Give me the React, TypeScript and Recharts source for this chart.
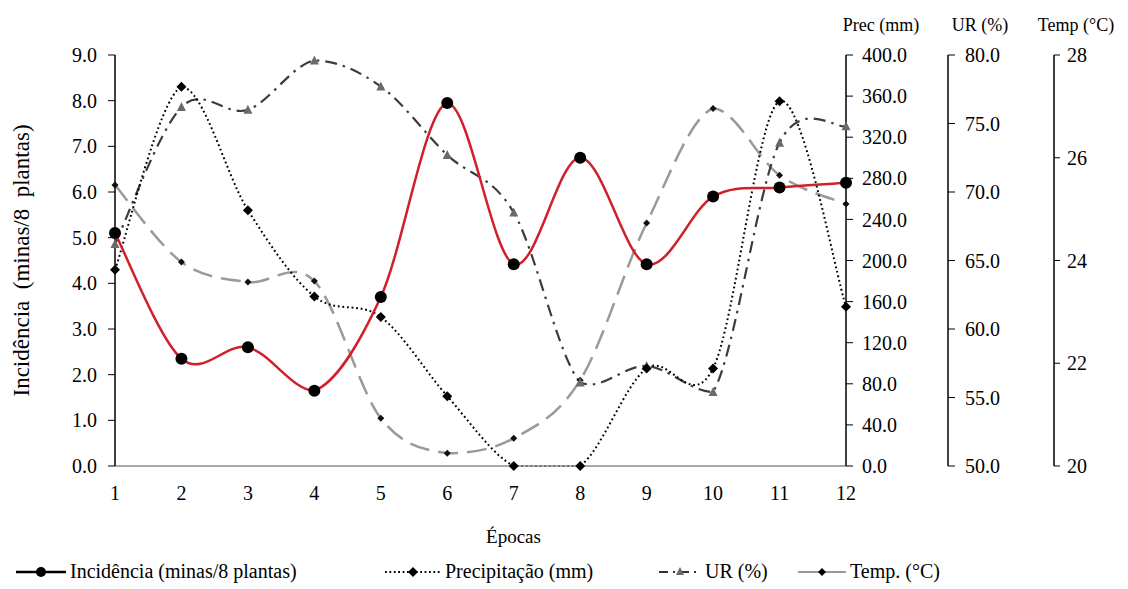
import React from 'react';
import { LineChart, Line, XAxis, YAxis } from 'recharts';

// valores
const epocas = ['1', '2', '3', '4', '5', '6', '7', '8', '9', '10', '11', '12'];
const incidencia = [5.1, 2.35, 2.6, 1.65, 3.7, 7.95, 4.42, 6.75, 4.42, 5.9, 6.1, 6.2];
const precipitacao = [191, 369, 249, 165, 145, 68, 0, 0, 95, 95, 355, 155];
const umidade = [66.2, 76.2, 76.0, 79.6, 77.7, 72.7, 68.5, 56.1, 57.3, 55.4, 73.6, 74.8];
const temperatura = [25.47, 23.97, 23.58, 23.6, 20.93, 20.25, 20.54, 21.67, 24.73, 26.96, 25.66, 25.1];

const incTicks = [0, 1, 2, 3, 4, 5, 6, 7, 8, 9];
const precTicks = [0, 40, 80, 120, 160, 200, 240, 280, 320, 360, 400];
const urTicks = [50, 55, 60, 65, 70, 75, 80];
const tempTicks = [20, 22, 24, 26, 28];

const data = epocas.map((e, i) => ({
  epoca: e,
  inc: incidencia[i],
  prec: precipitacao[i],
  ur: umidade[i],
  temp: temperatura[i],
}));

const FONT = 'Liberation Serif, Tinos, Times New Roman, Times, serif';
const RED = '#d0202a';

// smoothing parecido com o do Excel (Catmull-Rom em bezier), sem passar do min/max da serie
const excelCurve = (context: any) => {
  let pts: number[][] = [];
  return {
    areaStart() {},
    areaEnd() {},
    lineStart() {
      pts = [];
    },
    point(x: number, y: number) {
      pts.push([+x, +y]);
    },
    lineEnd() {
      if (!pts.length) return;
      const ys = pts.map((p) => p[1]);
      const lo = Math.min(...ys);
      const hi = Math.max(...ys);
      const cl = (v: number) => Math.max(lo, Math.min(hi, v));
      context.moveTo(pts[0][0], pts[0][1]);
      for (let i = 0; i < pts.length - 1; i++) {
        const p0 = pts[i - 1] || pts[i];
        const p1 = pts[i];
        const p2 = pts[i + 1];
        const p3 = pts[i + 2] || p2;
        context.bezierCurveTo(
          p1[0] + (p2[0] - p0[0]) / 6,
          cl(p1[1] + (p2[1] - p0[1]) / 6),
          p2[0] - (p3[0] - p1[0]) / 6,
          cl(p2[1] - (p3[1] - p1[1]) / 6),
          p2[0],
          p2[1]
        );
      }
    },
  };
};

const Diamond = (size: number, color: string) => (props: any) => {
  const { cx, cy, index } = props;
  if (cx == null || cy == null) return <g key={index} />;
  return (
    <path
      key={index}
      d={`M${cx},${cy - size}L${cx + size},${cy}L${cx},${cy + size}L${cx - size},${cy}Z`}
      fill={color}
    />
  );
};

const Triangle = (props: any) => {
  const { cx, cy, index } = props;
  if (cx == null || cy == null) return <g key={index} />;
  return <path key={index} d={`M${cx},${cy - 5}L${cx + 4.5},${cy + 4}L${cx - 4.5},${cy + 4}Z`} fill="#6a6a6a" />;
};

const rightTitle = (text: string, shift: number) => (props: any) => {
  const vb = props.viewBox || {};
  return (
    <text x={vb.x + shift} y={vb.y - 24} textAnchor="middle" fontFamily={FONT} fontSize={18} fill="#000">
      {text}
    </text>
  );
};

const leftTitle = (props: any) => {
  const vb = props.viewBox || {};
  const x = vb.x + 16;
  const y = vb.y + vb.height / 2;
  return (
    <text
      x={x}
      y={y}
      transform={`rotate(-90 ${x} ${y})`}
      textAnchor="middle"
      dominantBaseline="central"
      fontFamily={FONT}
      fontSize={23}
      fill="#000"
      style={{ whiteSpace: 'pre' }}
    >
      {'Incidência  (minas/8  plantas)'}
    </text>
  );
};

const xTitle = (props: any) => {
  const vb = props.viewBox || {};
  return (
    <text x={vb.x + vb.width / 2 + 33} y={vb.y + 77} textAnchor="middle" fontFamily={FONT} fontSize={19} fill="#000">
      Épocas
    </text>
  );
};

const tickStyle = { fontFamily: FONT, fontSize: 20, fill: '#000' };

const LegendIcon = ({ kind }: { kind: string }) => {
  if (kind === 'inc') {
    return (
      <svg width={50} height={16}>
        <line x1={0} y1={8} x2={50} y2={8} stroke="#000" strokeWidth={2.5} />
        <circle cx={25} cy={8} r={5} fill="#000" />
      </svg>
    );
  }
  if (kind === 'prec') {
    return (
      <svg width={56} height={16}>
        <line x1={0} y1={8} x2={56} y2={8} stroke="#000" strokeWidth={1.8} strokeDasharray="1.8 2.6" />
        <path d="M28,3L33,8L28,13L23,8Z" fill="#000" />
      </svg>
    );
  }
  if (kind === 'ur') {
    return (
      <svg width={42} height={16}>
        <line x1={0} y1={8} x2={42} y2={8} stroke="#333" strokeWidth={2} strokeDasharray="9 5 2 5" />
        <path d="M21,3L25,11L17,11Z" fill="#6a6a6a" />
      </svg>
    );
  }
  return (
    <svg width={48} height={16}>
      <line x1={0} y1={8} x2={48} y2={8} stroke="#999" strokeWidth={2.2} />
      <path d="M24,4L28,8L24,12L20,8Z" fill="#000" />
    </svg>
  );
};

const legendItems = [
  { kind: 'inc', label: 'Incidência (minas/8 plantas)', left: 16 },
  { kind: 'prec', label: 'Precipitação (mm)', left: 385 },
  { kind: 'ur', label: 'UR (%)', left: 659 },
  { kind: 'temp', label: 'Temp. (°C)', left: 798 },
];

export default function App() {
  return (
    <div style={{ position: 'absolute', left: 0, top: 0, width: 1128, height: 589, background: '#fff' }}>
      <LineChart width={1128} height={550} data={data} margin={{ top: 55, right: 14, bottom: 0, left: 5 }}>
        <XAxis
          dataKey="epoca"
          height={84}
          tickLine={false}
          tickMargin={14}
          axisLine={{ stroke: '#8c8c8c', strokeWidth: 1.5 }}
          tick={tickStyle}
          interval={0}
          label={{ content: xTitle }}
        />
        <YAxis
          yAxisId="y1"
          width={110}
          domain={[0, 9]}
          ticks={incTicks}
          tickFormatter={(v: number) => v.toFixed(1)}
          tick={tickStyle}
          tickSize={7}
          tickMargin={11}
          axisLine={{ stroke: '#000', strokeWidth: 1.5 }}
          tickLine={{ stroke: '#000' }}
          interval={0}
          label={{ content: leftTitle }}
        />
        <YAxis
          yAxisId="y2"
          orientation="right"
          width={102}
          domain={[0, 400]}
          ticks={precTicks}
          tickFormatter={(v: number) => v.toFixed(1)}
          tick={tickStyle}
          tickSize={7}
          tickMargin={9}
          axisLine={{ stroke: '#000', strokeWidth: 1.5 }}
          tickLine={{ stroke: '#000' }}
          interval={0}
          label={{ content: rightTitle('Prec (mm)', 35) }}
        />
        <YAxis
          yAxisId="y3"
          orientation="right"
          width={106}
          domain={[50, 80]}
          ticks={urTicks}
          tickFormatter={(v: number) => v.toFixed(1)}
          tick={tickStyle}
          tickSize={7}
          tickMargin={10}
          axisLine={{ stroke: '#000', strokeWidth: 1.5 }}
          tickLine={{ stroke: '#000' }}
          interval={0}
          label={{ content: rightTitle('UR (%)', 32) }}
        />
        <YAxis
          yAxisId="y4"
          orientation="right"
          width={60}
          domain={[20, 28]}
          ticks={tempTicks}
          tickFormatter={(v: number) => String(v)}
          tick={tickStyle}
          tickSize={6}
          tickMargin={7}
          axisLine={{ stroke: '#000', strokeWidth: 1.5 }}
          tickLine={{ stroke: '#000' }}
          interval={0}
          label={{ content: rightTitle('Temp (°C)', 22) }}
        />
        <Line
          yAxisId="y4"
          dataKey="temp"
          type={excelCurve as any}
          stroke="#9a9a9a"
          strokeWidth={2.5}
          strokeDasharray="20 9"
          dot={Diamond(3.5, '#111')}
          activeDot={false}
          isAnimationActive={false}
        />
        <Line
          yAxisId="y3"
          dataKey="ur"
          type={excelCurve as any}
          stroke="#3c3c3c"
          strokeWidth={2.2}
          strokeDasharray="12 6 2.5 6"
          dot={Triangle}
          activeDot={false}
          isAnimationActive={false}
        />
        <Line
          yAxisId="y2"
          dataKey="prec"
          type={excelCurve as any}
          stroke="#000"
          strokeWidth={2}
          strokeDasharray="1.8 2.8"
          dot={Diamond(5, '#000')}
          activeDot={false}
          isAnimationActive={false}
        />
        <Line
          yAxisId="y1"
          dataKey="inc"
          type={excelCurve as any}
          stroke={RED}
          strokeWidth={2.5}
          dot={{ r: 6, fill: '#000', stroke: '#000', strokeWidth: 0 }}
          activeDot={false}
          isAnimationActive={false}
        />
      </LineChart>
      <div style={{ position: 'absolute', top: 560, left: 0, width: 1128, height: 26 }}>
        {legendItems.map((it) => (
          <div
            key={it.kind}
            style={{
              position: 'absolute',
              left: it.left,
              top: 0,
              display: 'flex',
              alignItems: 'center',
              gap: 4,
              fontFamily: FONT,
              fontSize: 20,
              color: '#000',
              whiteSpace: 'nowrap',
            }}
          >
            <LegendIcon kind={it.kind} />
            <span>{it.label}</span>
          </div>
        ))}
      </div>
    </div>
  );
}
